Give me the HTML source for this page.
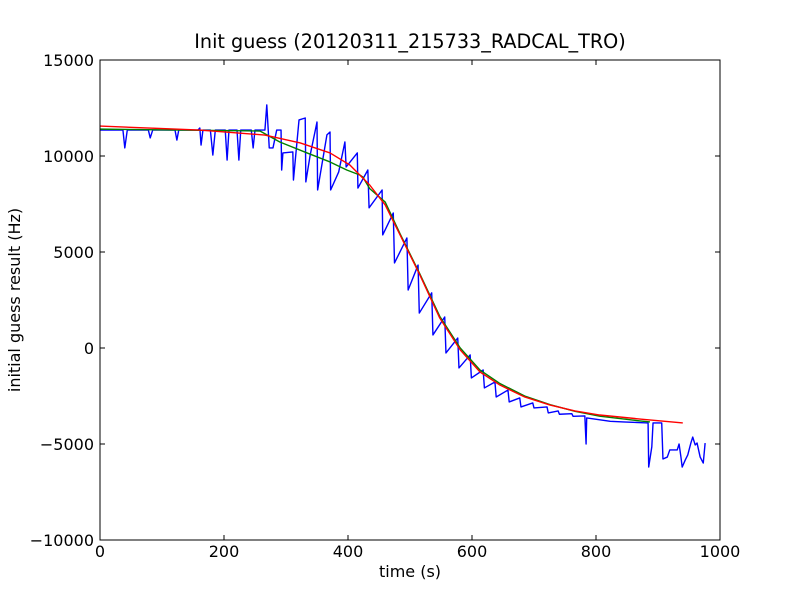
<!DOCTYPE html>
<html><head><meta charset="utf-8"><style>
body{margin:0;background:#fff;}
svg text{font-family:"DejaVu Sans","Liberation Sans",sans-serif;}
</style></head><body>
<svg id="chart" width="800" height="600" xmlns="http://www.w3.org/2000/svg">
<rect x="0" y="0" width="800" height="600" fill="#fff"/>
<text x="410" y="48" font-size="19.2" text-anchor="middle">Init guess (20120311_215733_RADCAL_TRO)</text>
<text x="410" y="577" font-size="16" text-anchor="middle">time (s)</text>
<text x="20" y="300" font-size="16" text-anchor="middle" transform="rotate(-90 20 300)">initial guess result (Hz)</text>
<g id="ticks"></g>
<g id="series"></g>
<rect x="100" y="60" width="620" height="480" fill="none" stroke="#000" stroke-width="1"/>
</svg>
<script>
const xTicks=[0,200,400,600,800,1000];
const yTicks=[-10000,-5000,0,5000,10000,15000];
const yTickLabels=["\u221210000","\u22125000","0","5000","10000","15000"];
const blueT=[0,37,40,44,78,81,85,121,124,127,158,161,163,166,178,182,186,202,205,208,221,224,227,244,247,250,266,269,273,279,285,292,293,295,311,312,321,331,332,339,350,351,366,371,372,385,395,397,415,416,432,434,455,456,473,475,495,497,513,515,535,537,556,558,577,579,597,599,618,620,637,639,658,660,677,679,698,700,721,723,739,741,761,763,782,784,785,802,823,844,884,885,890,892,906,908,915,919,931,934,937,939,944,948,953,956,960,963,968,973,976];
const blueV=[11350,11350,10420,11350,11350,10940,11350,11350,10830,11350,11350,11460,10570,11350,11350,10050,11350,11350,9790,11350,11350,9790,11350,11350,10420,11350,11350,12660,10420,10420,11350,11350,9270,10160,10210,8750,11880,11980,8650,10050,11770,8230,11100,11250,8230,9170,10730,9430,10160,8330,9270,7300,8230,5890,7030,4430,5730,3020,4320,1820,2870,680,1615,-260,520,-1040,-360,-1560,-1145,-2080,-1770,-2550,-2190,-2810,-2600,-3070,-2860,-3120,-3070,-3380,-3280,-3450,-3420,-3560,-3540,-5000,-3645,-3720,-3820,-3850,-3905,-6200,-5150,-3905,-3905,-5780,-5680,-5310,-5310,-5000,-5680,-6200,-5830,-5570,-4950,-4640,-5050,-4950,-5680,-5990,-4950];
const greenT=[0,258,290,334,371,398,419,424,435,460,484,516,548,581,613,645,685,726,766,806,871,887];
const greenV=[11400,11300,10730,10160,9690,9270,9010,8900,8300,7600,5950,3850,1650,0,-1150,-1850,-2500,-2950,-3300,-3550,-3800,-3850];
const redT=[0,161,266,323,371,403,435,460,484,516,548,581,613,645,685,726,766,806,871,940];
const redV=[11560,11350,11090,10680,10160,9530,8490,7450,5890,3800,1560,-100,-1250,-1930,-2550,-2970,-3280,-3490,-3700,-3905];
const X=t=>100+t*0.62;
const Y=v=>540-(v+10000)*0.0192;
const NS="http://www.w3.org/2000/svg";
const tg=document.getElementById('ticks');
xTicks.forEach(t=>{
  const l=document.createElementNS(NS,'path');
  l.setAttribute('d',`M${X(t)},540v-5M${X(t)},60v5`);
  l.setAttribute('stroke','#000');
  
  
  tg.appendChild(l);
  const tx=document.createElementNS(NS,'text');
  tx.setAttribute('x',X(t));tx.setAttribute('y',557);
  tx.setAttribute('font-size','16');tx.setAttribute('text-anchor','middle');
  tx.textContent=t;
  
  
  tg.appendChild(tx);
});
yTicks.forEach((v,i)=>{
  const l=document.createElementNS(NS,'path');
  l.setAttribute('d',`M100,${Y(v)}h5M720,${Y(v)}h-5`);
  l.setAttribute('stroke','#000');
  
  
  tg.appendChild(l);
  const tx=document.createElementNS(NS,'text');
  tx.setAttribute('x',94);tx.setAttribute('y',Y(v)+6);
  tx.setAttribute('font-size','16');tx.setAttribute('text-anchor','end');
  tx.textContent=yTickLabels[i];
  
  
  tg.appendChild(tx);
});
const sg=document.getElementById('series');
function line(ts,vs,color,name){
  const p=document.createElementNS(NS,'polyline');
  p.setAttribute('points',ts.map((t,i)=>X(t)+','+Y(vs[i])).join(' '));
  p.setAttribute('fill','none');p.setAttribute('stroke',color);
  p.setAttribute('stroke-width','1.4');p.setAttribute('stroke-linejoin','round');
  
  
  sg.appendChild(p);
}
line(blueT,blueV,'#0000ff','measured-series-line');
line(greenT,greenV,'#008000','smoothed-series-line');
line(redT,redV,'#ff0000','fit-series-line');
</script>
</body></html>
